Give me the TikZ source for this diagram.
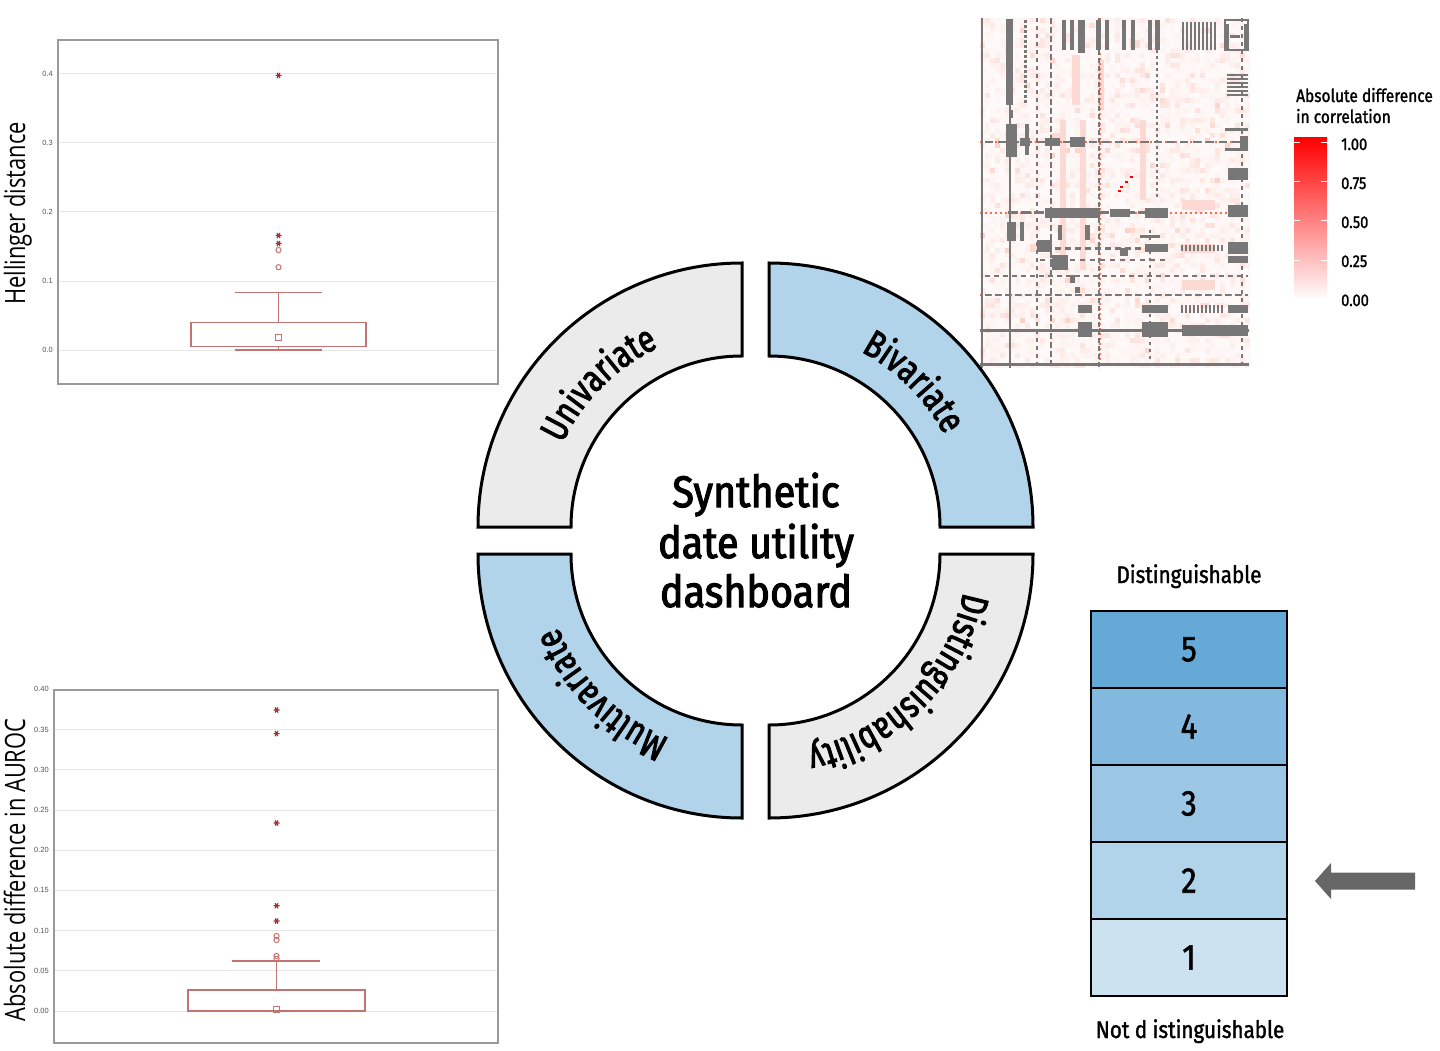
\documentclass[tikz,border=0pt]{standalone}
\usepackage{fontspec}
\setmainfont{Fira Sans}
\newfontfamily\condfont{Fira Sans}[FakeStretch=0.86,FakeBold=1.5]
\newfontfamily\titlefam{Fira Sans}[FakeStretch=0.9,FakeBold=2.5]
\newfontfamily\ringfam{Fira Sans}[FakeStretch=0.78,FakeBold=2.5]
\newfontfamily\axfont{Open Sans}[FakeStretch=0.78]
\newfontfamily\tickfont{Liberation Sans}
\usetikzlibrary{decorations.text}
\definecolor{ringgray}{HTML}{EBEBEB}
\definecolor{ringblue}{HTML}{B1D4EA}
\definecolor{bfive}{HTML}{65AAD7}
\definecolor{bfour}{HTML}{83B9DF}
\definecolor{bthree}{HTML}{9BC6E4}
\definecolor{btwo}{HTML}{B1D4EA}
\definecolor{bone}{HTML}{CDE2F0}
\definecolor{arrowgray}{HTML}{666666}
\definecolor{gridgray}{HTML}{E6E6E6}
\definecolor{framegray}{HTML}{9A9A9A}
\definecolor{tickgray}{HTML}{555555}
\definecolor{boxred}{HTML}{C47373}
\definecolor{starred}{HTML}{A52A2A}
\definecolor{hmgray}{HTML}{777777}
\definecolor{hmbase}{HTML}{F25535}
\definecolor{hmtop}{HTML}{FF0000}
\definecolor{hmmid}{HTML}{FC9274}
\newcommand\myring{\ringfam\fontsize{38}{42}\selectfont}
\newcommand\mytitle{\titlefam\fontsize{44}{50}\selectfont}
\newcommand\mylab{\condfont\fontsize{24}{28}\selectfont}
\newcommand\mynum{\condfont\fontsize{36}{40}\selectfont}
\newcommand\mycbt{\condfont\fontsize{18}{21}\selectfont}
\newcommand\mycbn{\condfont\fontsize{17}{19}\selectfont}
\newcommand\myax{\axfont\fontsize{28}{30}\selectfont}
\newcommand\mytick{\tickfont\fontsize{7.5}{8}\selectfont}
\begin{document}
\begin{tikzpicture}[x=1pt,y=1pt,
  seg/.style={draw=black, line width=3pt, line join=miter},
  lvl/.style={draw=black, line width=1.8pt, minimum width=196pt, minimum height=77pt, inner sep=0pt, font=\mynum},
  gridline/.style={draw=gridgray, line width=1pt},
  plotframe/.style={draw=framegray, line width=1.5pt},
  ticklab/.style={font=\mytick, text=tickgray, inner sep=0pt, anchor=east},
  bx/.style={draw=boxred, line width=1.3pt},
  ostar/.pic={\draw[starred, line width=1.1pt] (-3,0)--(3,0) (-1.5,-2.6)--(1.5,2.6) (-1.5,2.6)--(1.5,-2.6);},
  ocirc/.pic={\draw[boxred, line width=1pt] (0,0) circle[radius=2.6pt];},
  osq/.pic={\draw[boxred, line width=1pt] (-3,-3) rectangle (3,3);},
]
\useasboundingbox (0,0) rectangle (1440,-1051);
\fill[white] (0,0) rectangle (1440,-1051);

% ---------------- Hellinger box plot ----------------
\foreach \yy/\lab/\k in {350/0.0/0,281/0.1/1,212/0.2/2,143/0.3/3,74/0.4/4}{
  \draw[gridline] (58,-\yy) -- (498,-\yy);
  \node[ticklab] (ta\k) at (53,-\yy) {\lab};
}
\draw[plotframe] (58,-40) rectangle (498,-384);
\draw[bx] (191,-322.4) rectangle (366,-346.5);
\draw[bx] (278.5,-322.4) -- (278.5,-292.7) (235,-292.7) -- (322,-292.7);
\draw[bx] (278.5,-346.5) -- (278.5,-350) (235,-350) -- (322,-350);
\pic at (278.5,-337.6) {osq};
\pic at (278.5,-75.4) {ostar};
\pic at (278.5,-235.5) {ostar};
\pic at (278.5,-243.5) {ostar};
\pic at (278.5,-250) {ocirc};
\pic at (278.5,-267.2) {ocirc};
\node[rotate=90, anchor=base, font=\myax] (ylabA) at (25,-213.5) {Hellinger distance};

% ---------------- AUROC box plot ----------------
\foreach \yy/\lab/\k in {1011/0.00/0,970.8/0.05/1,930.6/0.10/2,890.4/0.15/3,850.2/0.20/4,810/0.25/5,769.8/0.30/6,729.6/0.35/7,689.4/0.40/8}{
  \draw[gridline] (54,-\yy) -- (498,-\yy);
  \node[ticklab] (tb\k) at (49,-\yy) {\lab};
}
\draw[plotframe] (54,-690) rectangle (498,-1043);
\draw[bx] (188,-990) rectangle (365,-1011);
\draw[bx] (276.5,-990) -- (276.5,-961) (232,-961) -- (320,-961);
\pic at (276.5,-1009.5) {osq};
\foreach \yy in {710,733.6,823,905.7,921}{ \pic at (276.5,-\yy) {ostar}; }
\foreach \yy in {936,940,956,958.8}{ \pic at (276.5,-\yy) {ocirc}; }
\node[rotate=90, anchor=base, font=\myax] (ylabB) at (25,-870) {Absolute difference in AUROC};

% ---------------- heatmap ----------------
\pgfmathsetseed{11}
\foreach \i in {0,...,53}{
  \foreach \j in {0,...,69}{
    \pgfmathsetmacro\pk{3+28*rnd*rnd*rnd}
    \fill[hmbase!\pk!white] ({980+5*\i},{-18-5*\j}) rectangle ++(5,-5);
  }
}
\foreach \a/\b/\c/\d in {1072/55/1080/105,1098/60/1104/110,1182/200/1215/210,1182/244/1215/253,1030/244/1040/252,1130/40/1140/48,1060/120/1066/270,1080/120/1086/270,1140/120/1146/200,1182/280/1215/290}{
  \fill[hmbase!22!white] (\a,-\b) rectangle (\c,-\d);
}
\draw[hmbase!85!white, line width=1.6pt, dash pattern=on 2pt off 3pt] (980,-213) -- (1249,-213);
\draw[hmbase!85!white, line width=1.4pt, dash pattern=on 2pt off 3pt] (980,-142) -- (1249,-142);
\draw[hmbase!85!white, line width=1.4pt, dash pattern=on 2pt off 3pt] (980,-295) -- (1249,-295);
\draw[hmbase!85!white, line width=1.6pt, dash pattern=on 2pt off 3pt] (1100,-18) -- (1100,-368);
\foreach \a/\b/\c/\d in {
  1006/19/1013/105, 1006/124/1017/157, 1007/222/1016/241, 1020/222/1024/241,
  1025/124/1029/155, 1062/20/1066/50, 1070/20/1074/50, 1078/20/1085/53,
  1096/20/1101/50, 1105/20/1109/50, 1122/20/1126/50, 1131/20/1135/50,
  1148/20/1152/50, 1155/20/1160/50, 1070/137/1085/147, 1240/136/1248/148,
  1228/168/1248/180, 1228/205/1248/217, 1228/242/1248/254, 1228/256/1248/263,
  1078/305/1092/313, 1142/305/1168/313, 1228/305/1248/313,
  1078/322/1092/337, 1142/322/1168/337, 1182/325/1248/336,
  1037/240/1052/252, 1052/255/1068/270, 1070/275/1075/283, 1075/287/1080/293,
  1020/138/1030/146, 1045/138/1060/146, 1225/128/1248/131, 1225/148/1248/151,
  1120/248/1128/256, 1145/244/1168/252, 1045/208/1100/218, 1110/209/1130/217,
  1145/208/1168/218, 1010/110/1013/118, 1140/235/1160/238, 1058/225/1062/240,
  1085/225/1090/240, 1225/24/1229/50, 1244/24/1248/50, 1230/35/1240/38}{
  \fill[hmgray] (\a,-\b) rectangle (\c,-\d);
}
\draw[hmgray, line width=1.5pt] (982,-18) -- (982,-368);
\draw[hmgray, line width=1.5pt] (1010,-105) -- (1010,-368);
\draw[hmgray, line width=3pt, dash pattern=on 3pt off 2pt] (1025,-20) -- (1025,-105);
\draw[hmgray, line width=1.5pt, dash pattern=on 4pt off 4pt] (1037,-18) -- (1037,-368);
\draw[hmgray, line width=1.5pt, dash pattern=on 6pt off 3pt] (1051,-18) -- (1051,-368);
\draw[hmgray, line width=1.5pt, dash pattern=on 5pt off 3pt] (1099,-18) -- (1099,-368);
\draw[hmgray, line width=2pt, dash pattern=on 3pt off 3pt] (1157,-50) -- (1157,-200);
\draw[hmgray, line width=1.5pt, dash pattern=on 3pt off 4pt] (1150,-230) -- (1150,-368);
\draw[hmgray, line width=1.5pt, dash pattern=on 4pt off 4pt] (1242,-18) -- (1242,-368);
\draw[hmgray, line width=2.5pt, dash pattern=on 8pt off 5pt] (985,-142) -- (1248,-142);
\draw[hmgray, line width=3pt, dash pattern=on 10pt off 3pt] (1008,-213) -- (1168,-213);
\draw[hmgray, line width=3pt, dash pattern=on 6pt off 4pt] (1045,-248) -- (1168,-248);
\draw[hmgray, line width=2.5pt, dash pattern=on 5pt off 5pt] (1040,-260) -- (1168,-260);
\draw[hmgray, line width=2pt, dash pattern=on 5pt off 4pt] (985,-276) -- (1248,-276);
\draw[hmgray, line width=2pt, dash pattern=on 6pt off 4pt] (985,-295) -- (1248,-295);
\draw[hmgray, line width=3pt] (980,-330) -- (1249,-330);
\draw[hmgray, line width=3pt] (980,-364) -- (1249,-364);
\foreach \xx in {1183,1187,...,1215}{ \draw[hmgray, line width=1.8pt] (\xx,-22) -- (\xx,-50); }
\foreach \xx in {1182,1186,...,1222}{ \draw[hmgray, line width=1.8pt] (\xx,-305) -- (\xx,-313); }
\foreach \xx in {1182,1186,...,1222}{ \draw[hmgray, line width=1.2pt] (\xx,-245) -- (\xx,-251); }
\foreach \yy in {75,79,...,95}{ \draw[hmgray, line width=2pt] (1227,-\yy) -- (1248,-\yy); }
\draw[hmgray, line width=2pt] (1225,-20) rectangle (1248,-50);
\foreach \a/\b in {1120/186,1125/181,1130/176,1118/190}{ \fill[red] (\a,-\b) rectangle ++(2.5,-2.5); }

% ---------------- colour bar ----------------
\shade[top color=hmtop, middle color=hmmid, bottom color=white] (1294,-138) rectangle (1327,-300);
\foreach \yy in {143,182,221,260}{
  \draw[white, line width=1pt] (1294,-\yy) -- (1300,-\yy) (1321,-\yy) -- (1327,-\yy);
}
\node[anchor=base west, font=\mycbt, inner sep=0pt] (cbtA) at (1296,-102) {Absolute difference};
\node[anchor=base west, font=\mycbt, inner sep=0pt] (cbtB) at (1296,-123) {in correlation};
\foreach \yy/\lab/\k in {150/1.00/4,189/0.75/3,228/0.50/2,267/0.25/1,306/0.00/0}{
  \node[anchor=base west, font=\mycbn, inner sep=0pt] (cbn\k) at (1341,-\yy) {\lab};
}

% ---------------- ring ----------------
\coordinate (cUL) at (742,-527);
\coordinate (cUR) at (769,-527);
\coordinate (cLL) at (742,-554);
\coordinate (cLR) at (769,-554);
\draw[seg, fill=ringgray] ([shift={(180:264pt)}]cUL) arc[start angle=180, end angle=90, radius=264pt]
  -- ([shift={(90:171pt)}]cUL) arc[start angle=90, end angle=180, radius=171pt] -- cycle;
\draw[seg, fill=ringblue] ([shift={(90:264pt)}]cUR) arc[start angle=90, end angle=0, radius=264pt]
  -- ([shift={(0:171pt)}]cUR) arc[start angle=0, end angle=90, radius=171pt] -- cycle;
\draw[seg, fill=ringgray] ([shift={(0:264pt)}]cLR) arc[start angle=0, end angle=-90, radius=264pt]
  -- ([shift={(-90:171pt)}]cLR) arc[start angle=-90, end angle=0, radius=171pt] -- cycle;
\draw[seg, fill=ringblue] ([shift={(270:264pt)}]cLL) arc[start angle=270, end angle=180, radius=264pt]
  -- ([shift={(180:171pt)}]cLL) arc[start angle=180, end angle=270, radius=171pt] -- cycle;

\path[decorate, decoration={text along path, text={|\myring|Univariate}, text align=center}]
  ([shift={(180:198pt)}]cUL) arc[start angle=180, end angle=90, radius=198pt];
\path[decorate, decoration={text along path, text={|\myring|Bivariate}, text align=center}]
  ([shift={(90:198pt)}]cUR) arc[start angle=90, end angle=0, radius=198pt];
\path[decorate, decoration={text along path, text={|\myring|Distinguishability}, text align=center}]
  ([shift={(0:198pt)}]cLR) arc[start angle=0, end angle=-90, radius=198pt];
\path[decorate, decoration={text along path, text={|\myring|Multivariate}, text align=center}]
  ([shift={(270:198pt)}]cLL) arc[start angle=270, end angle=180, radius=198pt];

\node[anchor=base, font=\mytitle, inner sep=0pt] (tA) at (756,-507) {Synthetic};
\node[anchor=base, font=\mytitle, inner sep=0pt] (tB) at (756,-558) {date utility};
\node[anchor=base, font=\mytitle, inner sep=0pt] (tC) at (756,-607) {dashboard};

% ---------------- distinguishability scale ----------------
\node[anchor=base, font=\mylab, inner sep=0pt] (dtop) at (1189,-583) {Distinguishable};
\node[lvl, fill=bfive] (l5) at (1189,-649.5) {5};
\node[lvl, fill=bfour] (l4) at (1189,-726.5) {4};
\node[lvl, fill=bthree] (l3) at (1189,-803.5) {3};
\node[lvl, fill=btwo] (l2) at (1189,-880.5) {2};
\node[lvl, fill=bone] (l1) at (1189,-957.5) {1};
\node[anchor=base, font=\mylab, inner sep=0pt] (dbot) at (1190,-1038) {Not d istinguishable};

\coordinate (arS) at (1415,-881);
\coordinate (arT) at (1315,-881);
\fill[arrowgray] (arT) -- ([shift={(16,18)}]arT) -- ([shift={(16,8.5)}]arT) -- ([shift={(0,8.5)}]arS)
  -- ([shift={(0,-8.5)}]arS) -- ([shift={(16,-8.5)}]arT) -- ([shift={(16,-18)}]arT) -- cycle;
\end{tikzpicture}
\end{document}
